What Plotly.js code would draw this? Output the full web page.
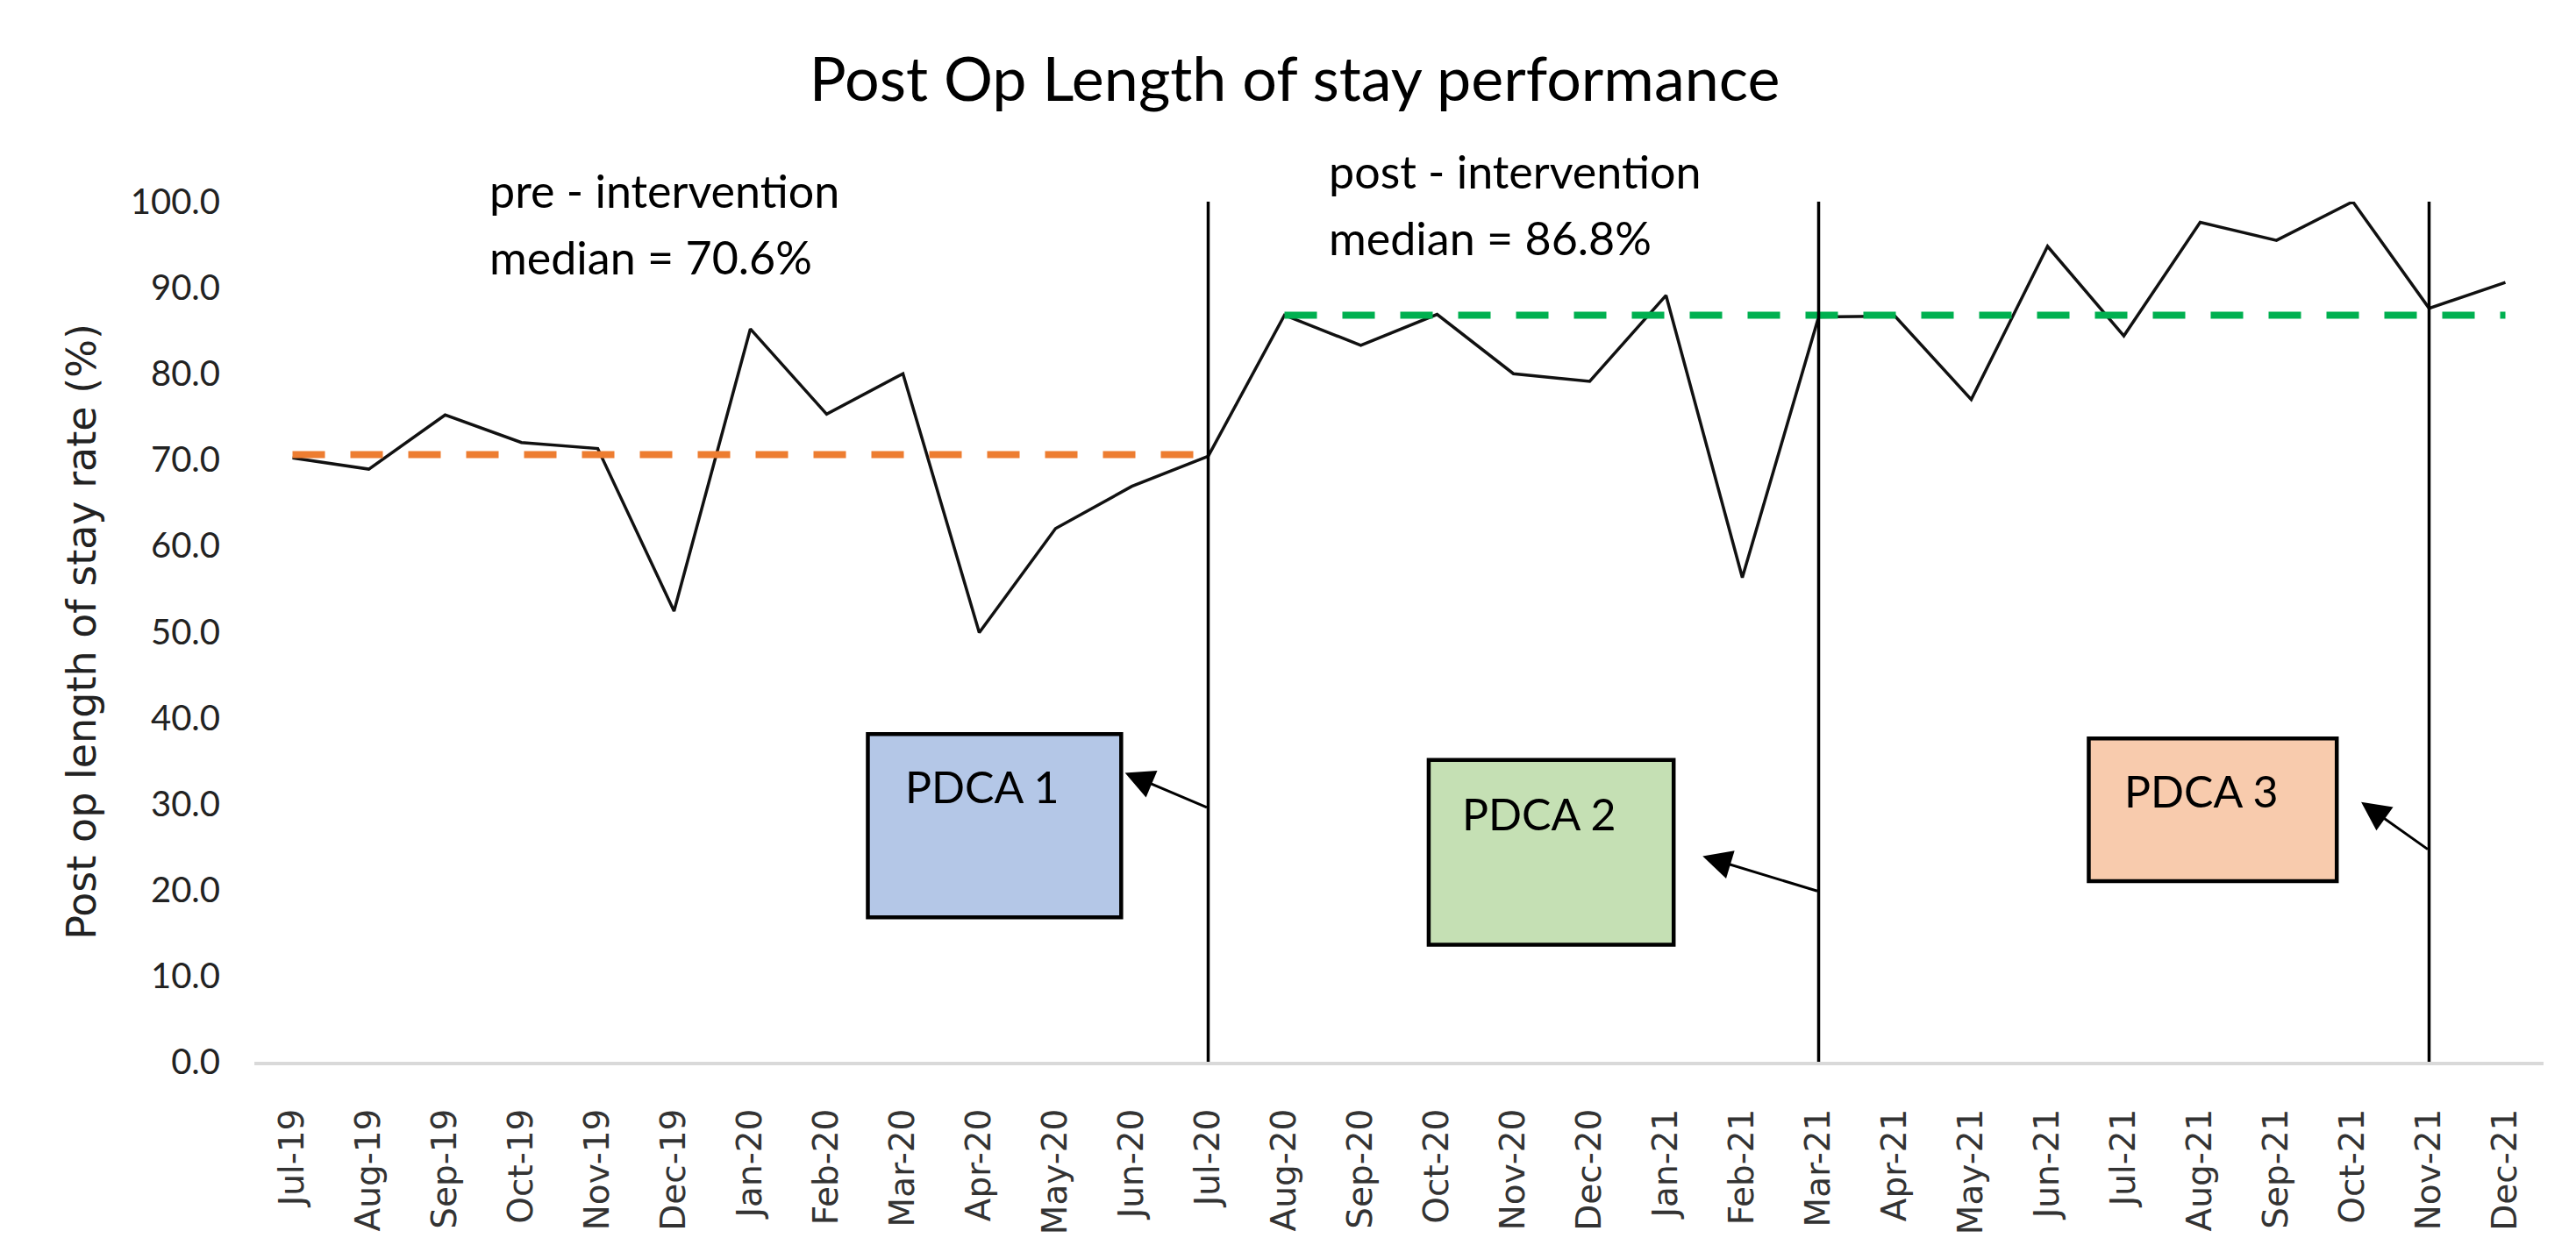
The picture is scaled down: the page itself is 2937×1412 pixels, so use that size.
<!DOCTYPE html>
<html>
<head>
<meta charset="utf-8">
<script src="https://cdn.plot.ly/plotly-3.0.1.min.js"></script>
<style>html,body{margin:0;padding:0;background:#fff;}#chart{width:2937px;height:1412px;}</style>
</head>
<body>
<div id="chart"></div>
<script>
// ---- data ----
const months = ["Jul-19","Aug-19","Sep-19","Oct-19","Nov-19","Dec-19","Jan-20","Feb-20","Mar-20","Apr-20","May-20","Jun-20",
                "Jul-20","Aug-20","Sep-20","Oct-20","Nov-20","Dec-20","Jan-21","Feb-21","Mar-21","Apr-21","May-21","Jun-21",
                "Jul-21","Aug-21","Sep-21","Oct-21","Nov-21","Dec-21"];
const rate = [70.2, 68.9, 75.2, 72.0, 71.3, 52.4, 85.2, 75.3, 80.0, 49.9, 62.0, 66.9,
              70.4, 86.8, 83.3, 86.9, 80.0, 79.1, 89.1, 56.3, 86.6, 86.7, 77.0, 94.8,
              84.4, 97.6, 95.5, 100.0, 87.6, 90.6];
const preMedian = 70.6;
const postMedian = 86.8;
const preSpan = ["Jul-19", "Jul-20"];
const postSpan = ["Aug-20", "Dec-21"];
const pdcaMonths = ["Jul-20", "Mar-21", "Nov-21"];
const pdcaLabels = ["PDCA 1", "PDCA 2", "PDCA 3"];
const yTicks = [0, 10, 20, 30, 40, 50, 60, 70, 80, 90, 100];

// ---- styling / positions (not data) ----
const pdcaFill = ["#B4C7E7", "#C5E0B4", "#F8CBAD"];
const pdcaBox = [[7.54, 10.86, 16.8, 38.1], [14.89, 18.10, 13.6, 35.1], [23.54, 26.79, 21.0, 37.6]];
const pdcaText = [[8.0, 32.0], [15.31, 28.8], [23.98, 31.5]];
const arrowHead = [[10.91, 33.6], [18.48, 23.9], [27.11, 30.2]];
const arrowTailY = [29.5, 19.8, 24.6];

const idx = m => months.indexOf(m);

const traces = [{
  type: "scatter", mode: "lines", x: months, y: rate,
  line: {color: "#111111", width: 3.5}, hoverinfo: "x+y", showlegend: false
}];

const shapes = [];
// median lines
shapes.push({type: "line", xref: "x", yref: "y", x0: idx(preSpan[0]), x1: idx(preSpan[1]), y0: preMedian, y1: preMedian,
  line: {color: "#ED7D31", width: 8, dash: "37px,29px"}, layer: "above"});
shapes.push({type: "line", xref: "x", yref: "y", x0: idx(postSpan[0]), x1: idx(postSpan[1]), y0: postMedian, y1: postMedian,
  line: {color: "#00B050", width: 8, dash: "37px,29px"}, layer: "above"});
// phase lines
pdcaMonths.forEach(m => shapes.push({type: "line", xref: "x", yref: "y", x0: idx(m), x1: idx(m), y0: -0.6, y1: 100,
  line: {color: "#000000", width: 3.5}, layer: "above"}));
// PDCA boxes
pdcaBox.forEach((b, i) => shapes.push({type: "rect", xref: "x", yref: "y", x0: b[0], x1: b[1], y0: b[2], y1: b[3],
  fillcolor: pdcaFill[i], line: {color: "#000000", width: 4.5}, layer: "above"}));

const txtFont = {family: "Lato, 'Open Sans', sans-serif", size: 52, color: "#000000"};
const annotations = [
  {xref: "x", yref: "paper", x: 2.56, y: 1.013, text: "pre - intervention", showarrow: false, xanchor: "left", yanchor: "middle", font: txtFont},
  {xref: "x", yref: "paper", x: 2.56, y: 0.936, text: "median = " + preMedian.toFixed(1) + "%", showarrow: false, xanchor: "left", yanchor: "middle", font: txtFont},
  {xref: "x", yref: "paper", x: 13.56, y: 1.036, text: "post - intervention", showarrow: false, xanchor: "left", yanchor: "middle", font: txtFont},
  {xref: "x", yref: "paper", x: 13.56, y: 0.958, text: "median = " + postMedian.toFixed(1) + "%", showarrow: false, xanchor: "left", yanchor: "middle", font: txtFont}
];
pdcaLabels.forEach((t, i) => annotations.push({xref: "x", yref: "y", x: pdcaText[i][0], y: pdcaText[i][1], text: t,
  showarrow: false, xanchor: "left", yanchor: "middle", font: {family: "Lato, 'Open Sans', sans-serif", size: 50, color: "#000000"}}));
pdcaMonths.forEach((m, i) => annotations.push({xref: "x", yref: "y", x: arrowHead[i][0], y: arrowHead[i][1],
  axref: "x", ayref: "y", ax: idx(m), ay: arrowTailY[i], text: "", showarrow: true,
  arrowhead: 2, arrowsize: 2.2, arrowwidth: 3, arrowcolor: "#000000", standoff: 0, startstandoff: 0}));

const layout = {
  width: 2937, height: 1412,
  paper_bgcolor: "#ffffff", plot_bgcolor: "#ffffff",
  margin: {l: 290, r: 37, t: 230, b: 201},
  title: {text: "Post Op Length of stay performance", x: 0.5026, xref: "container", xanchor: "center",
          y: 0.936, yref: "container", yanchor: "middle",
          font: {family: "Lato, 'Open Sans', sans-serif", size: 70, color: "#000000"}},
  xaxis: {type: "category", range: [-0.5, 29.5], showgrid: false, zeroline: false,
          showline: true, linecolor: "#D9D9D9", linewidth: 4, ticks: "", tickangle: -90,
          ticklabelstandoff: 34,
          tickfont: {family: "'DejaVu Sans', Verdana, sans-serif", size: 39, color: "#333333"}},
  yaxis: {range: [0, 100], showgrid: false, zeroline: false, showline: false, ticks: "",
          tickvals: yTicks, tickformat: ".1f", ticklabelstandoff: 38,
          tickfont: {family: "Lato, 'Open Sans', sans-serif", size: 40, color: "#222222"},
          title: {text: "Post op length of stay rate (%)", standoff: 24,
                  font: {family: "'DejaVu Sans', Verdana, sans-serif", size: 46, color: "#222222"}}},
  shapes: shapes,
  annotations: annotations,
  showlegend: false
};

Plotly.newPlot("chart", traces, layout, {displayModeBar: false, staticPlot: true});
</script>
</body>
</html>
